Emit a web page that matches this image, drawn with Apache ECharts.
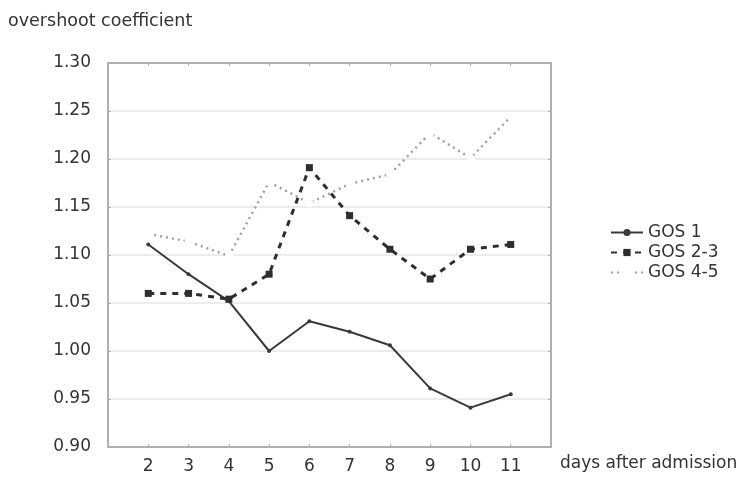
<!DOCTYPE html>
<html>
<head>
    <meta charset="utf-8">
    <title>overshoot coefficient</title>
    <script src="https://cdn.jsdelivr.net/npm/echarts@6/dist/echarts.min.js"></script>
    <style>
        body { margin: 0; background: #fff; }
        #main { width: 744px; height: 477px; }
    </style>
</head>
<body>
<div id="main"></div>
<script type="text/javascript">
    // days after admission
    var days = [2, 3, 4, 5, 6, 7, 8, 9, 10, 11];
    var xTicks = [2, 3, 4, 5, 6, 7, 8, 9, 10, 11];

    // overshoot coefficient per group
    var gos1  = [1.111, 1.080, 1.052, 1.000, 1.031, 1.020, 1.006, 0.961, 0.941, 0.955];
    var gos23 = [1.060, 1.060, 1.054, 1.080, 1.191, 1.141, 1.106, 1.075, 1.106, 1.111];
    var gos45 = [1.122, 1.114, 1.099, 1.176, 1.154, 1.174, 1.184, 1.227, 1.201, 1.244];

    function pairs(vals) {
        var out = [];
        for (var i = 0; i < days.length; i++) {
            out.push([days[i], vals[i]]);
        }
        return out;
    }

    var font = 'DejaVu Sans';
    var fs = 17;
    var boxColor = '#b0b0b0';

    var myChart = echarts.init(document.getElementById('main'));

    var option = {
        animation: false,
        backgroundColor: '#fff',
        textStyle: { fontFamily: font },
        grid: { left: 108, top: 63, width: 443, height: 384 },
        legend: {
            orient: 'vertical',
            left: 605,
            top: 219,
            itemWidth: 32,
            itemHeight: 9,
            itemGap: 3,
            textStyle: { fontFamily: font, fontSize: fs, color: '#333' },
            data: ['GOS 1', 'GOS 2-3', 'GOS 4-5']
        },
        graphic: [
            {
                type: 'text', left: 8, top: 12,
                style: { text: 'overshoot coefficient', font: '17.5px "DejaVu Sans"', fill: '#333' }
            },
            {
                type: 'text', left: 560, top: 455,
                style: { text: 'days after admission', font: fs + 'px "DejaVu Sans"', fill: '#333' }
            }
        ],
        xAxis: [
            {
                type: 'value', min: 1, max: 12, interval: 1,
                axisLine: { lineStyle: { color: boxColor, width: 2 } },
                axisTick: { inside: true, length: 3, lineStyle: { color: boxColor } },
                axisLabel: {
                    margin: 11, fontSize: fs, color: '#333', fontFamily: font,
                    formatter: function (v) { return xTicks.indexOf(v) >= 0 ? String(v) : ''; }
                },
                splitLine: { show: false }
            },
            {
                type: 'value', min: 1, max: 12, interval: 1, position: 'top',
                axisLine: { show: true, onZero: false, lineStyle: { color: boxColor, width: 2 } },
                axisTick: { inside: true, length: 3, lineStyle: { color: boxColor } },
                axisLabel: { show: false },
                splitLine: { show: false }
            }
        ],
        yAxis: [
            {
                type: 'value', min: 0.9, max: 1.3, interval: 0.05,
                axisLine: { show: true, onZero: false, lineStyle: { color: boxColor, width: 2 } },
                axisTick: { show: true, inside: true, length: 3, lineStyle: { color: boxColor } },
                axisLabel: {
                    margin: 17, fontSize: fs, color: '#333', fontFamily: font,
                    formatter: function (v) { return v.toFixed(2); }
                },
                splitLine: { show: true, lineStyle: { color: '#e6e6e6', width: 1.5 } }
            },
            {
                type: 'value', min: 0.9, max: 1.3, interval: 0.05, position: 'right',
                axisLine: { show: true, onZero: false, lineStyle: { color: boxColor, width: 2 } },
                axisTick: { show: true, inside: true, length: 3, lineStyle: { color: boxColor } },
                axisLabel: { show: false },
                splitLine: { show: false }
            }
        ],
        series: [
            {
                name: 'GOS 1', type: 'line', data: pairs(gos1),
                symbol: 'circle', symbolSize: 4,
                lineStyle: { color: '#3a3a3a', width: 2 },
                itemStyle: { color: '#3a3a3a' }
            },
            {
                name: 'GOS 2-3', type: 'line', data: pairs(gos23),
                symbol: 'rect', symbolSize: 7,
                lineStyle: { color: '#2e2e2e', width: 3, type: [6, 6] },
                itemStyle: { color: '#2e2e2e' }
            },
            {
                name: 'GOS 4-5', type: 'line', data: pairs(gos45),
                symbol: 'emptyCircle', symbolSize: 6,
                lineStyle: { color: '#a0a0a0', width: 2.5, type: [2, 4] },
                itemStyle: { color: '#fff', borderColor: '#a0a0a0', borderWidth: 1.5 }
            }
        ]
    };

    myChart.setOption(option);
</script>
</body>
</html>
